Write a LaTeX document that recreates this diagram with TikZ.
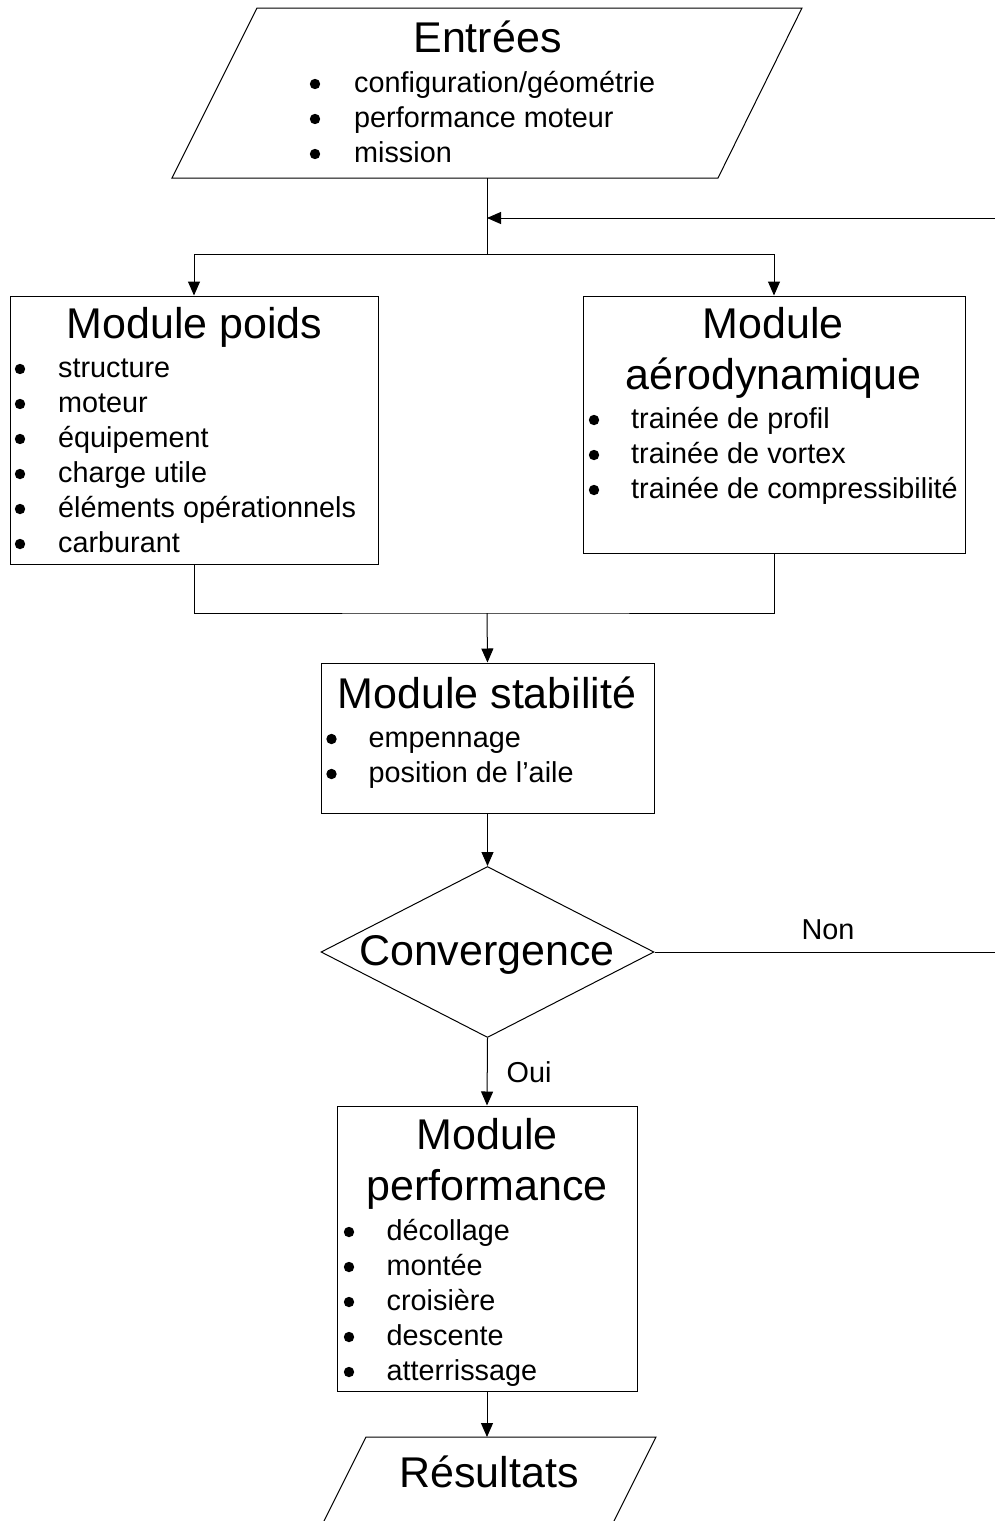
\documentclass[tikz,border=0pt]{standalone}
\usepackage{fontspec}
\setmainfont{Liberation Sans}
\usetikzlibrary{arrows.meta,shapes.geometric}
\begin{document}
\begin{tikzpicture}[x=1pt,y=-1pt,
  ln/.style={line width=1pt, draw=black},
  arr/.style={ln, -{Triangle[length=14pt,width=12pt]}},
  box/.style={draw=black, line width=1pt, rectangle, inner sep=0pt},
  ttl/.style={font=\fontsize{43}{51}\selectfont, inner sep=0pt, anchor=base},
  itm/.style={font=\fontsize{28.8}{35}\selectfont, inner sep=0pt, anchor=base west},
  lbl/.style={font=\fontsize{28.8}{35}\selectfont, inner sep=0pt},
  bul/.style={fill=black}]
\useasboundingbox (0,0) rectangle (995,1521);
\clip (0,0) rectangle (995,1521);

% Entrees (parallelogram)
\coordinate (inTL) at (257,8);
\coordinate (inTR) at (802,8);
\coordinate (inBR) at (718,178);
\coordinate (inBL) at (172,178);
\draw[ln] (inTL) -- (inTR) -- (inBR) -- (inBL) -- cycle;
\node[ttl] (inT) at (487.5,52) {Entrées};
\foreach \t [count=\i] in {configuration/géométrie, performance moteur, mission}{
  \fill[bul] (315,{92+35*(\i-1)-8}) circle[radius=5.2];
  \node[itm] (ini\i) at (354,{92+35*(\i-1)}) {\t};
}

% Module poids
\node[box, minimum width=368pt, minimum height=268pt] (poids) at (194,430) {};
\node[ttl] (poidsT) at (194.5,338) {Module poids};
\foreach \t [count=\i] in {structure, moteur, équipement, charge utile, éléments opérationnels, carburant}{
  \fill[bul] (20,{377+35*(\i-1)-8}) circle[radius=5.2];
  \node[itm] (pi\i) at (58,{377+35*(\i-1)}) {\t};
}

% Module aerodynamique
\node[box, minimum width=382pt, minimum height=257pt] (aero) at (774,424.5) {};
\node[ttl] (aeroT1) at (773,338) {Module};
\node[ttl] (aeroT2) at (773.5,389) {aérodynamique};
\foreach \t [count=\i] in {trainée de profil, trainée de vortex, trainée de compressibilité}{
  \fill[bul] (594,{428+35*(\i-1)-8}) circle[radius=5.2];
  \node[itm] (ai\i) at (631,{428+35*(\i-1)}) {\t};
}

% Module stabilite
\node[box, minimum width=333pt, minimum height=150pt] (stab) at (487.5,738) {};
\node[ttl] (stabT) at (487,708) {Module stabilité};
\foreach \t [count=\i] in {empennage, position de l’aile}{
  \fill[bul] (331.5,{747+35*(\i-1)-8}) circle[radius=5.2];
  \node[itm] (si\i) at (368.5,{747+35*(\i-1)}) {\t};
}

% Convergence
\node[draw=black, line width=1pt, shape=diamond, inner sep=0pt,
      minimum width=333pt, minimum height=171pt] (conv) at (487.5,952) {};
\node[ttl] (convT) at (487,965) {Convergence};

% Module performance
\node[box, minimum width=300pt, minimum height=285pt] (perf) at (487,1248.5) {};
\node[ttl] (perfT1) at (487,1149) {Module};
\node[ttl] (perfT2) at (487,1200) {performance};
\foreach \t [count=\i] in {décollage, montée, croisière, descente, atterrissage}{
  \fill[bul] (349,{1240+35*(\i-1)-8}) circle[radius=5.2];
  \node[itm] (fi\i) at (386.5,{1240+35*(\i-1)}) {\t};
}

% Resultats (parallelogram, cut by the page edge)
\coordinate (resTL) at (366,1437);
\coordinate (resTR) at (656,1437);
\coordinate (resBL) at (284.5,1600);
\coordinate (resBR) at (574.5,1600);
\draw[ln] (resBL) -- (resTL) -- (resTR) -- (resBR);
\node[ttl] (resT) at (489,1487) {Résultats};

% connectors
\coordinate (inOut) at (487,178);
\coordinate (split) at (487,254);
\coordinate (fbIn) at (995,218);
\coordinate (fbTip) at (487,218);
\draw[ln] (inOut) -- (split);
\draw[arr] (split) -| (poids.north);
\draw[arr] (split) -| (aero.north);
\draw[arr] (fbIn) -- (fbTip);

\coordinate (merge) at (487,613);
\draw[ln] (poids.south) |- (merge) -| (aero.south);
\draw[arr] (merge) -- (stab.north);
\draw[arr] (stab.south) -- (conv.north);

\coordinate (nonEnd) at (995,952);
\draw[ln] (conv.east) -- (nonEnd);
\node[lbl, anchor=base] (non) at (828,939) {Non};

\draw[arr] (conv.south) -- (perf.north);
\node[lbl, anchor=base west] (oui) at (506.5,1082) {Oui};

\coordinate (resIn) at (487,1437);
\draw[arr] (perf.south) -- (resIn);
\end{tikzpicture}
\end{document}
